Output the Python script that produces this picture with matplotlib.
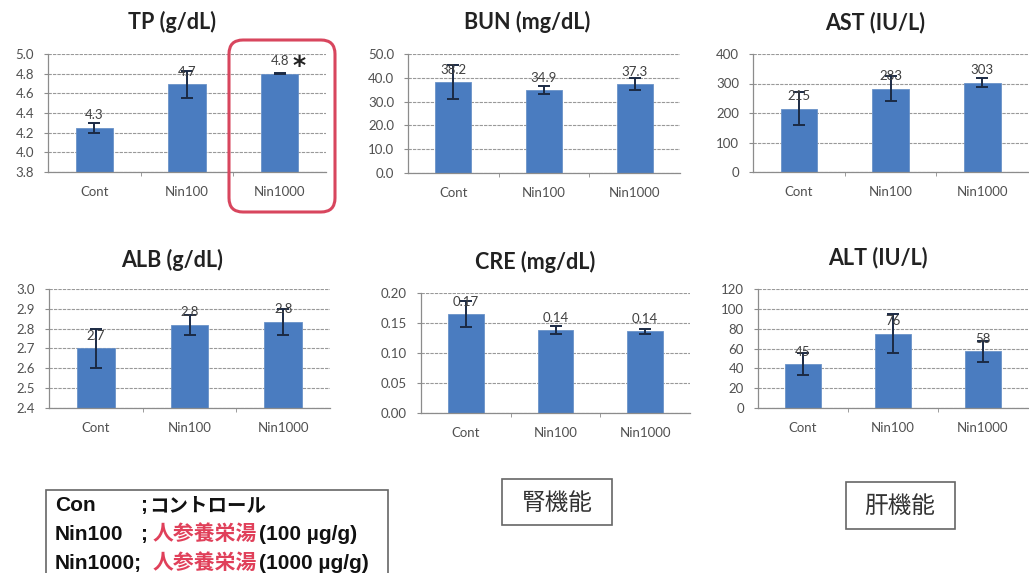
import numpy as np
import matplotlib
matplotlib.use('Agg')
import matplotlib.pyplot as plt
from matplotlib.patches import FancyBboxPatch, Rectangle

W, H = 1029, 573

# data
groups = ['Cont', 'Nin100', 'Nin1000']

tp_vals = [4.25, 4.69, 4.80]
tp_err = [0.05, 0.14, 0.005]
tp_text = ['4.3', '4.7', '4.8']

bun_vals = [38.2, 34.9, 37.3]
bun_err = [7.0, 1.6, 2.6]
bun_text = ['38.2', '34.9', '37.3']

ast_vals = [215, 283, 303]
ast_err = [55, 43, 15]
ast_text = ['215', '283', '303']

alb_vals = [2.70, 2.82, 2.835]
alb_err = [0.10, 0.05, 0.065]
alb_text = ['2.7', '2.8', '2.8']

cre_vals = [0.165, 0.138, 0.136]
cre_err = [0.021, 0.007, 0.004]
cre_text = ['0.17', '0.14', '0.14']

alt_vals = [44, 75, 57]
alt_err = [11, 20, 11]
alt_text = ['45', '76', '58']

BAR = '#4a7cc0'
ERR = '#1b2a44'
GRAY = '#505050'

fig = plt.figure(figsize=(W / 100, H / 100), dpi=100)
fig.patch.set_facecolor('white')


def px_rect(x0, y0, x1, y1):
    return [x0 / W, 1 - y1 / H, (x1 - x0) / W, (y1 - y0) / H]


def panel(rect, title, tpos, vals, err, text, ylim, step, fmt):
    ax = fig.add_axes(px_rect(*rect))
    x = np.arange(len(groups))
    ax.bar(x, vals, width=0.4, color=BAR, edgecolor='#6a92c8', linewidth=0.6, zorder=2)
    ax.errorbar(x, vals, yerr=err, fmt='none', ecolor=ERR, elinewidth=1.4,
                capsize=4.5, capthick=1.4, zorder=3)
    for xi, v, s in zip(x, vals, text):
        ax.annotate(s, (xi, v), xytext=(0, 4.5), textcoords='offset points',
                    ha='center', va='bottom', fontsize=9.5, color='#404040',
                    family='Lato', zorder=4)
    ax.set_xlim(-0.5, len(groups) - 0.5)
    ax.set_ylim(*ylim)
    ticks = np.round(np.arange(ylim[0], ylim[1] + step / 2, step), 4)
    ax.set_yticks(ticks)
    ax.set_yticklabels([fmt % t for t in ticks])
    ax.set_xticks(x)
    ax.set_xticklabels(groups)
    ax.set_xticks([0.5, 1.5], minor=True)
    ax.tick_params(axis='x', which='major', length=0, pad=10)
    ax.tick_params(axis='x', which='minor', length=3, color='#8c8c8c')
    ax.tick_params(axis='y', length=3, color='#8c8c8c', pad=7)
    for lab in ax.get_xticklabels() + ax.get_yticklabels():
        lab.set_fontfamily('Lato')
        lab.set_fontsize(9.5)
        lab.set_color(GRAY)
    ax.yaxis.grid(True, color='#999999', linewidth=0.8, linestyle=(0, (3, 1)), zorder=0)
    ax.set_axisbelow(True)
    for side in ['top', 'right']:
        ax.spines[side].set_visible(False)
    for side in ['left', 'bottom']:
        ax.spines[side].set_color('#8c8c8c')
        ax.spines[side].set_linewidth(0.9)
    fig.text(tpos[0] / W, 1 - tpos[1] / H, title, ha='center', va='center',
             fontsize=15.5, fontweight='bold', family='Lato', color='#222222')
    return ax


panel((48, 54, 326, 172), 'TP (g/dL)', (172, 22), tp_vals, tp_err, tp_text, (3.8, 5.0), 0.2, '%.1f')
panel((408, 54, 680, 173), 'BUN (mg/dL)', (527, 22), bun_vals, bun_err, bun_text, (0, 50), 10, '%.1f')
panel((753, 54, 1028, 172), 'AST (IU/L)', (875, 23), ast_vals, ast_err, ast_text, (0, 400), 100, '%d')
panel((49, 289, 330, 408), 'ALB (g/dL)', (172, 260), alb_vals, alb_err, alb_text, (2.4, 3.0), 0.1, '%.1f')
panel((421, 293, 690, 413), 'CRE (mg/dL)', (535, 262), cre_vals, cre_err, cre_text, (0, 0.20), 0.05, '%.2f')
panel((758, 289, 1028, 408), 'ALT (IU/L)', (878, 258), alt_vals, alt_err, alt_text, (0, 120), 20, '%d')

# red highlight box round Nin1000 of TP, and the star
inch = fig.dpi_scale_trans
fig.patches.append(FancyBboxPatch((229 / 100, (H - 212) / 100), 106 / 100, 172 / 100,
                                  boxstyle='round,pad=0,rounding_size=0.14',
                                  transform=inch, fill=False, edgecolor='#d8465e',
                                  linewidth=2.2, figure=fig))
fig.text(299 / W, 1 - 66 / H, '*', ha='center', va='center', fontsize=18,
         fontweight='bold', color='#222222')

# boxes at the bottom
def box(x0, y0, x1, y1):
    fig.patches.append(Rectangle((x0 / 100, (H - y1) / 100), (x1 - x0) / 100, (y1 - y0) / 100,
                                 transform=inch, fill=False, edgecolor='#666666',
                                 linewidth=1.2, figure=fig))


box(46, 490, 388, 590)
box(502, 479, 612, 525)
box(846, 482, 955, 529)
fig.text(557 / W, 1 - 503 / H, '腎機能', ha='center', va='center', fontsize=17,
         family='Noto Sans CJK JP', color='#333333')
fig.text(900 / W, 1 - 506 / H, '肝機能', ha='center', va='center', fontsize=17,
         family='Noto Sans CJK JP', color='#333333')

LAT = 'Liberation Sans'
CJK = 'Noto Sans CJK JP'
RED = '#e0405a'
renderer = fig.canvas.get_renderer()


def put(x, y, s, color, fam, size):
    t = fig.text(x / W, 1 - y / H, s, ha='left', va='baseline', fontsize=size,
                 family=fam, color=color, fontweight='bold')
    return x + t.get_window_extent(renderer).width


put(55, 511, 'Con', '#111111', LAT, 15)
put(140, 511, ';', '#111111', LAT, 15)
put(149, 511, 'コントロール', '#111111', CJK, 14)

put(55, 540, 'Nin100', '#111111', LAT, 15)
put(140, 540, ';', '#111111', LAT, 15)
xe = put(153, 540, '人参養栄湯', RED, CJK, 15)
put(xe + 2, 540, '(100 µg/g)', '#111111', LAT, 15)

put(55, 569, 'Nin1000;', '#111111', LAT, 15)
xe = put(153, 569, '人参養栄湯', RED, CJK, 15)
put(xe + 2, 569, '(1000 µg/g)', '#111111', LAT, 15)

fig.savefig('out.png', dpi=100)
